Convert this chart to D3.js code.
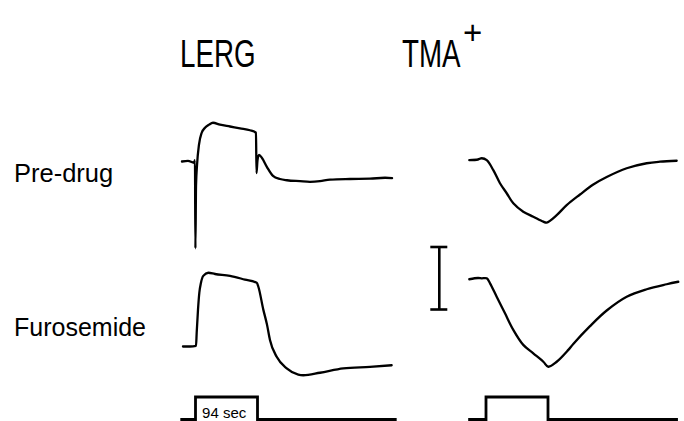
<!DOCTYPE html>
<html>
<head>
<meta charset="utf-8">
<script src="https://cdn.jsdelivr.net/npm/d3@7"></script>
<style>
  html, body { margin: 0; padding: 0; background: #fff; }
  svg text { font-family: "Liberation Sans", Arial, Helvetica, sans-serif; fill: #000; }
  .trace { fill: none; stroke: #000; stroke-width: 2.3; stroke-linejoin: round; stroke-linecap: round; }
  .stim { fill: none; stroke: #000; stroke-width: 2.8; }
  .scale-bar { stroke: #000; stroke-width: 2.6; }
</style>
</head>
<body>
<div id="chart"></div>
<script>
// Time in seconds from stimulus onset, amplitude in units of 1/10 of the scale bar
const columns = ['LERG', 'TMA']
const rows = ['Pre-drug', 'Furosemide']
const stimulusDuration = 94
const stimulusLabel = '94 sec'
const scaleBarValue = 10

const lergPreDrug = [
  [-20.5, 0], [-11.4, 0.1], [-2.3, -0.2], [-0.8, 0.2], [-0.15, -13.9], [0.8, -3.8],
  [2.3, -0.6], [5.3, 2.7], [9.4, 4.6], [14.4, 5.4], [20.5, 5.9], [26.5, 6.2],
  [37.1, 5.9], [52.3, 5.6], [67.5, 5.3], [82.6, 5.0], [91.7, 4.6], [92.5, -1.85],
  [94, 0.2], [96.3, 1.05], [100.8, 0.56], [108.4, -0.9], [117.5, -2.3], [128.1, -2.8],
  [138.7, -3.0], [158.4, -3.15], [173.6, -3.25], [188.7, -3.15], [203.9, -2.9],
  [234.2, -2.8], [264.6, -2.75], [287.4, -2.6], [298, -2.65]
]

const lergFurosemide = [
  [-19, 0], [-8.3, 0], [0.8, 0.1], [1.8, 2.2], [3.8, 5.9], [5.8, 8.6], [8.3, 10.2],
  [11.8, 11.3], [19.4, 11.8], [29.6, 11.6], [52.3, 11.3], [75, 10.7], [92.8, 10.2],
  [95.2, 9.6], [102.8, 5.9], [108.4, 3.5], [112.9, 1.05], [123.1, -1.65], [138.3, -3.5],
  [155.8, -4.5], [163.4, -4.6], [188.7, -4.2], [224.1, -3.5], [264.5, -3.25], [297.4, -3.0]
]

const tmaPreDrug = [
  [-25.3, -0.1], [-12.1, 0], [-6.5, 0.2], [1.1, -0.1], [11.1, -1.7], [21.2, -3.8],
  [31.4, -5.4], [41.4, -7.0], [56.5, -8.35], [71.7, -9.15], [86.9, -9.95], [92, -10.1],
  [107.2, -8.9], [122.3, -7.3], [142.5, -5.6], [162.7, -4.0], [183, -2.8], [213.3, -1.4],
  [243.6, -0.6], [263.8, -0.35], [289.1, -0.2]
]

const tmaFurosemide = [
  [-25.3, -0.2], [-12.1, 0], [-6.5, -0.05], [1.1, -0.05], [6.1, -0.85], [16.2, -3.0],
  [28.8, -5.65], [41.4, -8.3], [56.5, -10.7], [71.7, -12.05], [86.9, -13.4], [94.5, -14.2],
  [107.2, -13.4], [124.8, -11.5], [132.3, -10.55], [157.7, -7.7], [183, -5.2],
  [213.3, -3.0], [243.6, -1.8], [273.9, -1.0], [291.5, -0.6]
]

// stimulus record: start and end time of each column's marker trace
const stimulusSpan = { LERG: [-23, 305], TMA: [-27, 291] }

const traces = [
  { column: 'LERG', row: 'Pre-drug', values: lergPreDrug },
  { column: 'LERG', row: 'Furosemide', values: lergFurosemide },
  { column: 'TMA', row: 'Pre-drug', values: tmaPreDrug },
  { column: 'TMA', row: 'Furosemide', values: tmaFurosemide }
]

// Layout
const width = 684
const height = 421
const onsetX = { LERG: 195.5, TMA: 486 }
const pulseWidth = 62
const baselineY = {
  'LERG|Pre-drug': 161.5, 'LERG|Furosemide': 346.5,
  'TMA|Pre-drug': 159.5, 'TMA|Furosemide': 278
}
// sharp transients in the LERG, smooth slow waves for TMA
const curves = { LERG: d3.curveMonotoneX, TMA: d3.curveCatmullRom.alpha(0.5) }
const barPx = 62.5
const stimBase = 419.5
const stimTop = 397

const svg = d3.select('#chart')
  .append('svg')
  .attr('width', width)
  .attr('height', height)
  .attr('viewBox', `0 0 ${width} ${height}`)

const xScales = {}
columns.forEach(c => {
  xScales[c] = d3.scaleLinear()
    .domain([0, stimulusDuration])
    .range([onsetX[c], onsetX[c] + pulseWidth])
})

const yScaleFor = (base) => d3.scaleLinear()
  .domain([0, scaleBarValue])
  .range([base, base - barPx])

//===========================================================================
// Traces
traces.forEach(tr => {
  const x = xScales[tr.column]
  const y = yScaleFor(baselineY[`${tr.column}|${tr.row}`])
  const line = d3.line()
    .x(d => x(d[0]))
    .y(d => y(d[1]))
    .curve(curves[tr.column])

  svg.append('path')
    .datum(tr.values)
    .attr('class', 'trace')
    .attr('d', line)
})

// Stimulus markers
const yStim = d3.scaleLinear().domain([0, 1]).range([stimBase, stimTop])
columns.forEach(c => {
  const x = xScales[c]
  const [t0, t1] = stimulusSpan[c]
  const steps = [[t0, 0], [0, 0], [0, 1], [stimulusDuration, 1], [stimulusDuration, 0], [t1, 0]]
  svg.append('path')
    .datum(steps)
    .attr('class', 'stim')
    .attr('d', d3.line().x(d => x(d[0])).y(d => yStim(d[1])))
})

svg.append('text')
  .attr('x', xScales.LERG(10))
  .attr('y', 418)
  .attr('font-size', 15)
  .text(stimulusLabel)

// Scale bar
const yBar = yScaleFor(309.5)
const barX = 439.3
const bar = svg.append('g').attr('class', 'scale-bar')
bar.append('line').attr('x1', barX).attr('x2', barX).attr('y1', yBar(0)).attr('y2', yBar(scaleBarValue))
bar.append('line').attr('x1', barX - 9).attr('x2', barX + 8).attr('y1', yBar(0)).attr('y2', yBar(0))
bar.append('line').attr('x1', barX - 9).attr('x2', barX + 8).attr('y1', yBar(scaleBarValue)).attr('y2', yBar(scaleBarValue))

//===========================================================================
// Titles
svg.append('text')
  .attr('transform', 'translate(180, 66.5) scale(0.73, 1)')
  .attr('font-size', 38)
  .text('LERG')

svg.append('text')
  .attr('transform', 'translate(402, 66.5) scale(0.73, 1)')
  .attr('font-size', 38)
  .text('TMA')

svg.append('text')
  .attr('x', 463)
  .attr('y', 44)
  .attr('font-size', 33)
  .text('+')

// Row labels
svg.append('text')
  .attr('x', 14)
  .attr('y', 182)
  .attr('font-size', 25.5)
  .text(rows[0])

svg.append('text')
  .attr('x', 14)
  .attr('y', 335.5)
  .attr('font-size', 25)
  .text(rows[1])
</script>
</body>
</html>
